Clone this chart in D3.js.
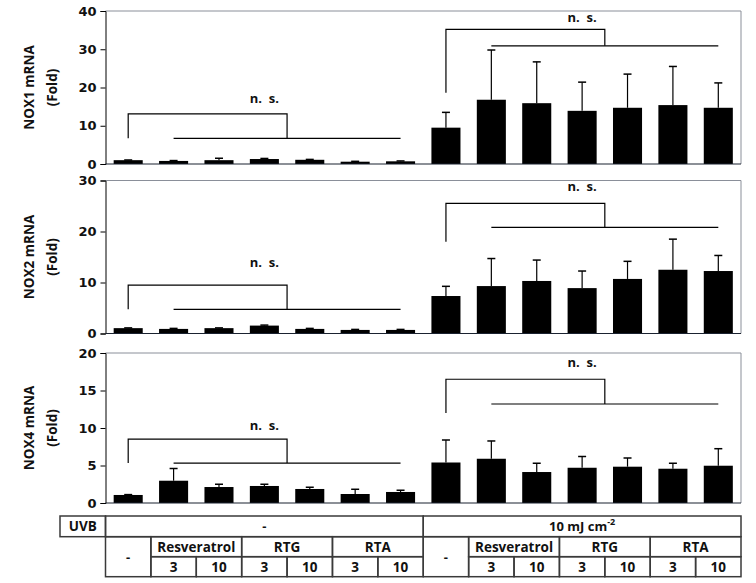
<!DOCTYPE html>
<html><head><meta charset="utf-8">
<script src="https://cdn.jsdelivr.net/npm/d3@7/dist/d3.min.js"></script>
<style>
body{margin:0;background:#fff;}
svg text{font-family:"Open Sans",sans-serif;font-weight:bold;fill:#111;}
</style></head>
<body>
<svg id="chart" width="756" height="583"></svg>
<script>
// ---------- data ----------
const conditions = ["-","Res 3","Res 10","RTG 3","RTG 10","RTA 3","RTA 10",
                    "UVB -","UVB Res 3","UVB Res 10","UVB RTG 3","UVB RTG 10","UVB RTA 3","UVB RTA 10"];
const nox1Mean = [1.0, 0.8, 1.0, 1.3, 1.1, 0.6, 0.7, 9.5, 16.8, 15.9, 13.9, 14.7, 15.4, 14.7];
const nox1Err  = [0.05, 0.1, 0.5, 0.15, 0.1, 0.1, 0.1, 4.0, 13.0, 10.8, 7.5, 8.8, 10.1, 6.5];
const nox2Mean = [1.05, 0.9, 1.05, 1.55, 0.9, 0.7, 0.7, 7.35, 9.3, 10.3, 8.9, 10.7, 12.5, 12.25];
const nox2Err  = [0.05, 0.1, 0.05, 0.1, 0.1, 0.1, 0.1, 1.9, 5.4, 4.1, 3.35, 3.45, 6.0, 3.05];
const nox4Mean = [1.07, 2.97, 2.13, 2.27, 1.87, 1.2, 1.47, 5.4, 5.9, 4.13, 4.7, 4.84, 4.57, 4.97];
const nox4Err  = [0.05, 1.63, 0.37, 0.23, 0.23, 0.63, 0.23, 3.0, 2.37, 1.17, 1.5, 1.16, 0.73, 2.27];
const yLabels = ["NOX1 mRNA","NOX2 mRNA","NOX4 mRNA"];
const yMax = [40, 30, 20];
const yStep = [10, 10, 5];
// significance brackets (data units)
const sig1 = [{a:0,b:1,c:6,top:13.1,low:6.7,leg:6.7,ty:16.0,tb:3},{a:7,b:8,c:13,top:35.2,low:30.9,leg:18.6,ty:37.2,tb:10}];
const sig2 = [{a:0,b:1,c:6,top:9.5,low:4.75,leg:4.75,ty:13.0,tb:3},{a:7,b:8,c:13,top:25.5,low:20.8,leg:18.0,ty:28.0,tb:10}];
const sig4 = [{a:0,b:1,c:6,top:8.53,low:5.33,leg:5.33,ty:9.7,tb:3},{a:7,b:8,c:13,top:16.5,low:13.2,leg:12.0,ty:18.2,tb:10}];
// table labels
const uvbLabels = ["-","10 mJ cm"];
const drugLabels = ["Resveratrol","RTG","RTA"];
const doseLabels = ["3","10"];

// ---------- layout ----------
const svg = d3.select("#chart");
const x = d3.scaleBand().domain(d3.range(conditions.length)).range([105.5, 741]).paddingInner(0.36).paddingOuter(0.18);
const panelsPx = [[11,164],[180.5,333.5],[353,503]];
const means = [nox1Mean, nox2Mean, nox4Mean];
const errs = [nox1Err, nox2Err, nox4Err];
const sigs = [sig1, sig2, sig4];
const x0 = 105.5, x1 = 741;
const cx = i => x(i) + x.bandwidth()/2;

panelsPx.forEach((p, k) => {
  const y = d3.scaleLinear().domain([0, yMax[k]]).range([p[1], p[0]]);
  const g = svg.append("g");
  g.append("path").attr("d", `M${x0},${p[0]}H${x1}V${p[1]}`).attr("fill","none").attr("stroke","#8a8f99").attr("stroke-width",1);
  g.selectAll("rect.bar").data(means[k]).join("rect")
    .attr("x", (d,i)=>x(i)).attr("width", x.bandwidth())
    .attr("y", d=>y(d)).attr("height", d=>y(0)-y(d)).attr("fill","#000");
  const eb = g.selectAll("g.err").data(means[k]).join("g");
  eb.append("line").attr("x1",(d,i)=>cx(i)).attr("x2",(d,i)=>cx(i))
    .attr("y1",d=>y(d)).attr("y2",(d,i)=>y(d+errs[k][i])).attr("stroke","#000").attr("stroke-width",1.2);
  eb.append("line").attr("x1",(d,i)=>cx(i)-4).attr("x2",(d,i)=>cx(i)+4)
    .attr("y1",(d,i)=>y(d+errs[k][i])).attr("y2",(d,i)=>y(d+errs[k][i])).attr("stroke","#000").attr("stroke-width",1.5);
  const ya = d3.axisLeft(y).tickValues(d3.range(0, yMax[k]+0.001, yStep[k])).tickSize(5).tickPadding(4);
  const ag = g.append("g").attr("transform",`translate(${x0},0)`).call(ya);
  ag.select(".domain").attr("stroke","#000");
  ag.selectAll(".tick line").attr("stroke","#000");
  ag.selectAll(".tick text").style("font-size","13px").style("font-family","'DejaVu Sans',sans-serif")
    .attr("fill","#222").style("font-weight","bold");
  g.append("line").attr("x1",x0).attr("x2",x1).attr("y1",p[1]).attr("y2",p[1]).attr("stroke","#1a2230").attr("stroke-width",1.2);
  const ym = (p[0]+p[1])/2;
  g.append("text").attr("transform",`translate(29,${ym}) rotate(-90)`).attr("text-anchor","middle")
    .attr("dominant-baseline","central").style("font-size","13.5px").text(yLabels[k]);
  g.append("text").attr("transform",`translate(52,${ym}) rotate(-90)`).attr("text-anchor","middle")
    .attr("dominant-baseline","central").style("font-size","13.5px").text("(Fold)");
  sigs[k].forEach(s => {
    const mid = (cx(s.b)+cx(s.c))/2;
    g.append("path").attr("d",`M${cx(s.a)},${y(s.leg)}V${y(s.top)}H${mid}V${y(s.low)}`)
      .attr("fill","none").attr("stroke","#000").attr("stroke-width",1.2);
    g.append("line").attr("x1",cx(s.b)).attr("x2",cx(s.c)).attr("y1",y(s.low)).attr("y2",y(s.low))
      .attr("stroke","#000").attr("stroke-width",1.2);
    g.append("text").attr("x",cx(s.tb)).attr("y",y(s.ty)).attr("text-anchor","middle")
      .style("font-size","13px").attr("xml:space","preserve").text("n.  s.");
  });
});

// ---------- table ----------
const tg = svg.append("g");
const rowY = [516, 536.7, 556.7, 576.7];
const tcol = "#3a3a3a";
const colEdge = i => i === 0 ? x0 : (i === conditions.length ? x1 : x(i) - (x.step()-x.bandwidth())/2);
function rect(xa, xb, ya, yb){
  tg.append("rect").attr("x",xa).attr("y",ya).attr("width",xb-xa).attr("height",yb-ya)
    .attr("fill","none").attr("stroke",tcol).attr("stroke-width",1.5);
}
function label(txt, xa, xb, ya, yb, size){
  return tg.append("text").attr("x",(xa+xb)/2).attr("y",(ya+yb)/2).attr("text-anchor","middle")
    .attr("dominant-baseline","central").style("font-size",(size||13)+"px").text(txt);
}
rect(60, x0, rowY[0], rowY[1]);
label("UVB", 60, x0, rowY[0], rowY[1], 13.5);
[0,7].forEach((start, gi) => {
  const xa = colEdge(start), xb = colEdge(start+7);
  rect(xa, xb, rowY[0], rowY[1]);
  if (gi === 0) label(uvbLabels[0], xa, xb, rowY[0], rowY[1]);
  else {
    const tt = label(uvbLabels[1], xa, xb, rowY[0], rowY[1], 13);
    tt.append("tspan").attr("dy","-5").style("font-size","9px").text("-2");
  }
  rect(xa, colEdge(start+1), rowY[1], rowY[3]);
  label("-", xa, colEdge(start+1), rowY[1], rowY[3]);
  drugLabels.forEach((dl, j) => {
    const c = start + 1 + j*2;
    rect(colEdge(c), colEdge(c+2), rowY[1], rowY[2]);
    label(dl, colEdge(c), colEdge(c+2), rowY[1], rowY[2], 13.5);
    doseLabels.forEach((ds, m) => {
      rect(colEdge(c+m), colEdge(c+m+1), rowY[2], rowY[3]);
      label(ds, colEdge(c+m), colEdge(c+m+1), rowY[2], rowY[3], 13.5);
    });
  });
});
</script>
</body></html>
